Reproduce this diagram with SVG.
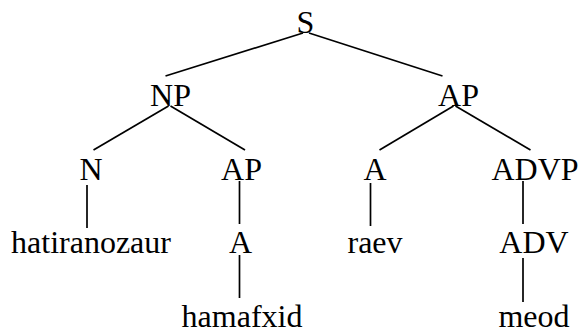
<svg xmlns="http://www.w3.org/2000/svg" width="579" height="331" viewBox="0 0 579 331">
<style>
text{font-family:"Liberation Serif","Times New Roman",Times,serif;font-size:32px;fill:#000;text-anchor:middle}
line{stroke:#000;stroke-width:1.7}
</style>
<rect width="579" height="331" fill="#fff"/>
<g id="connectors">
<line x1="303" y1="33" x2="165.5" y2="76"/>
<line x1="309" y1="33" x2="442.5" y2="76"/>
<line x1="168.5" y1="106" x2="93.5" y2="150"/>
<line x1="170.5" y1="106" x2="245" y2="150"/>
<line x1="453.5" y1="106" x2="379.5" y2="150"/>
<line x1="455.5" y1="106" x2="530.5" y2="150"/>
<line x1="87" y1="185" x2="87" y2="228"/>
<line x1="239.5" y1="181" x2="239.5" y2="224"/>
<line x1="370.5" y1="183" x2="370.5" y2="226"/>
<line x1="523" y1="181" x2="523" y2="224"/>
<line x1="239.5" y1="255" x2="239.5" y2="298"/>
<line x1="523" y1="258" x2="523" y2="302"/>
</g>
<g id="n-S"><text x="305.5" y="33">S</text></g>
<g id="n-NP"><text x="170.5" y="106">NP</text></g>
<g id="n-AP1"><text x="458.5" y="106">AP</text></g>
<g id="n-N"><text x="91" y="180">N</text></g>
<g id="n-AP2"><text x="241.5" y="180">AP</text></g>
<g id="n-A1"><text x="375" y="180">A</text></g>
<g id="n-ADVP"><text x="535" y="180">ADVP</text></g>
<g id="n-hatiranozaur"><text x="91" y="253">hatiranozaur</text></g>
<g id="n-A2"><text x="240.5" y="253">A</text></g>
<g id="n-raev"><text x="375" y="253">raev</text></g>
<g id="n-ADV"><text x="534" y="253">ADV</text></g>
<g id="n-hamafxid"><text x="242" y="327">hamafxid</text></g>
<g id="n-meod"><text x="534" y="327">meod</text></g>
</svg>
